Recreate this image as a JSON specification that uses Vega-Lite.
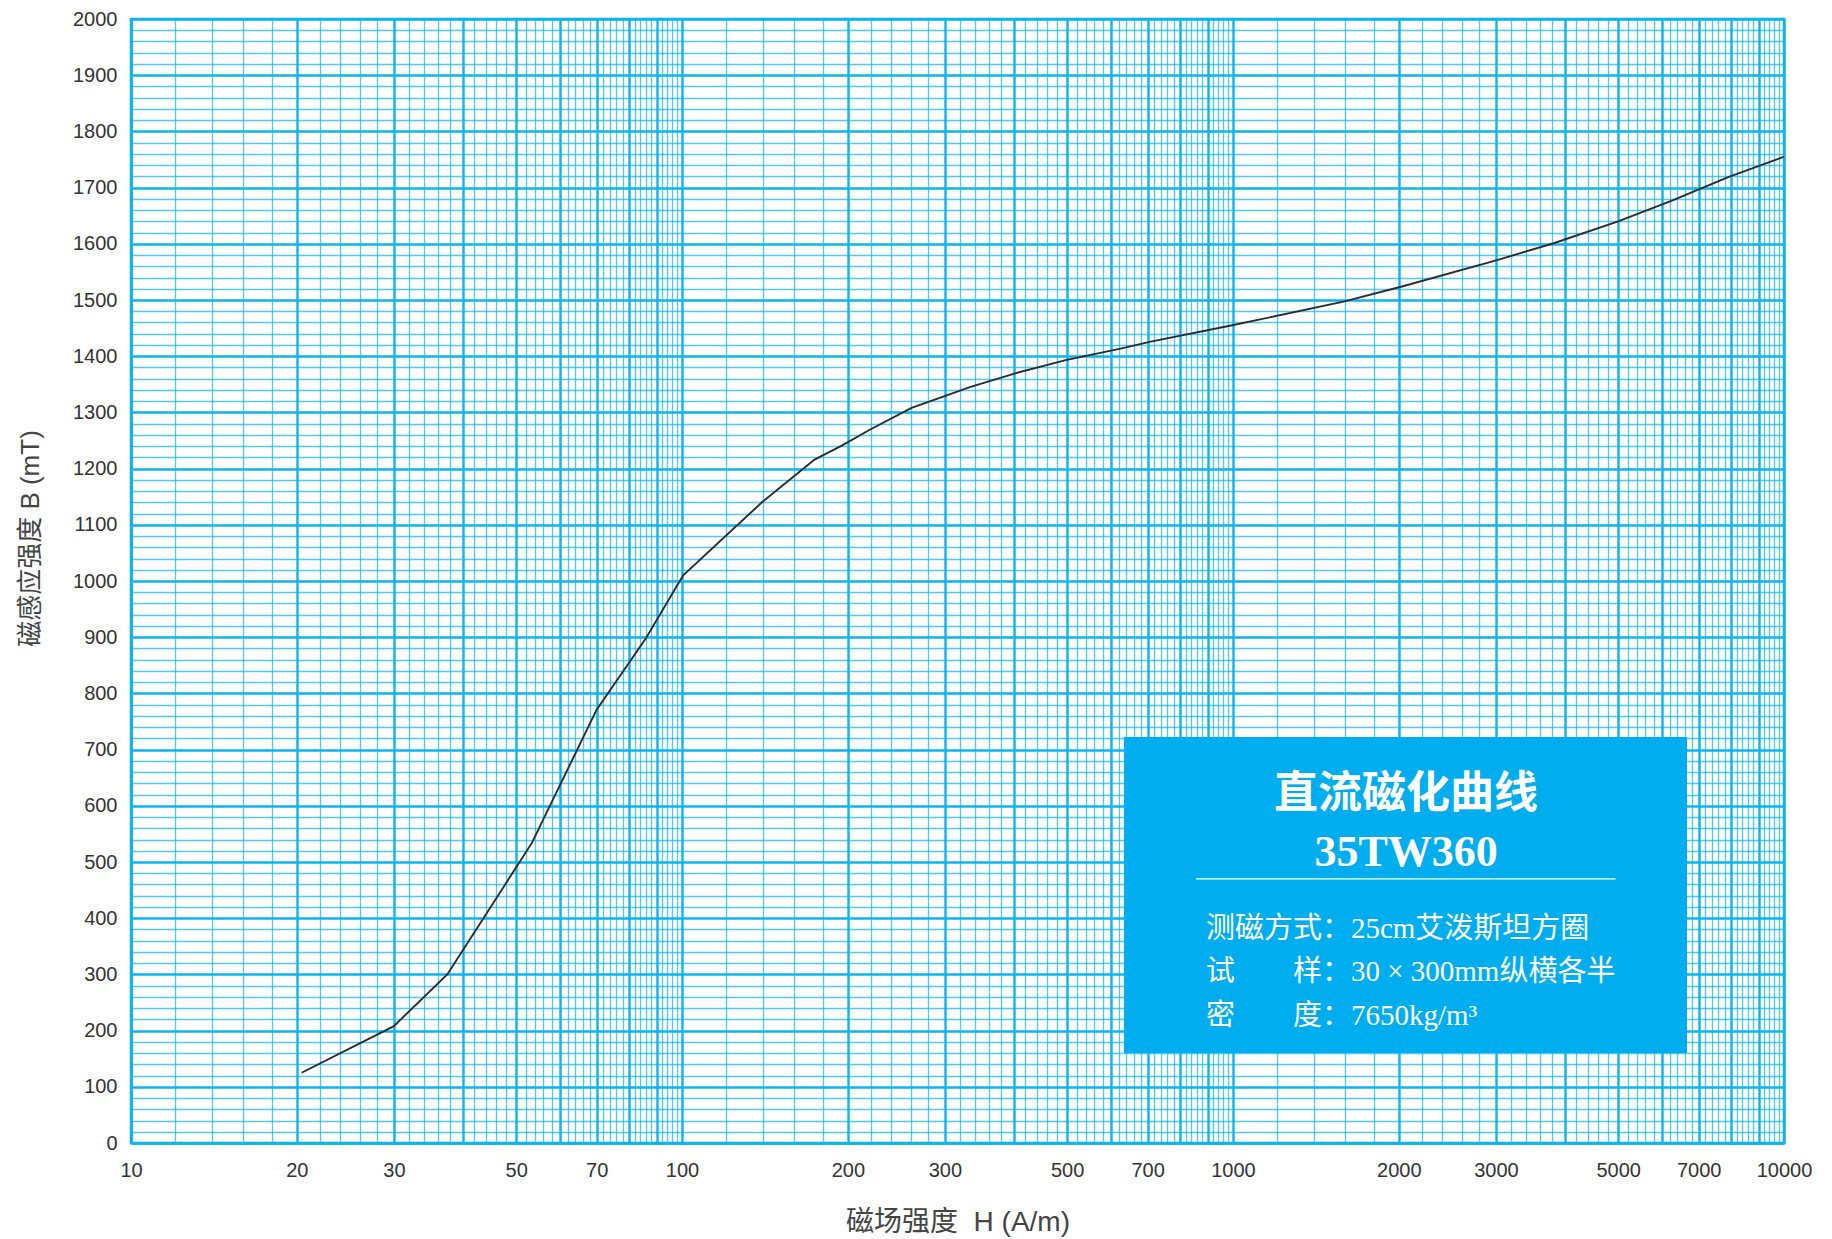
{
  "$schema": "https://vega.github.io/schema/vega-lite/v6.json",
  "autosize": {"type": "none"},
  "padding": {"left": 131, "top": 19, "right": 48, "bottom": 96},
  "width": 1653,
  "height": 1124,
  "background": "white",
  "config": {
    "view": {"stroke": "#0db4ef", "strokeWidth": 2.5},
    "font": "Liberation Sans"
  },
  "datasets": {
    "curve": [
      {"H": 20.4, "B": 125},
      {"H": 30, "B": 208},
      {"H": 37.5, "B": 300},
      {"H": 53.4, "B": 534},
      {"H": 70, "B": 771},
      {"H": 86, "B": 898},
      {"H": 100.5, "B": 1010},
      {"H": 140, "B": 1141},
      {"H": 174, "B": 1216},
      {"H": 195, "B": 1241},
      {"H": 220, "B": 1270},
      {"H": 261, "B": 1308},
      {"H": 333, "B": 1345},
      {"H": 404, "B": 1370},
      {"H": 497, "B": 1393},
      {"H": 628, "B": 1414},
      {"H": 709, "B": 1426},
      {"H": 997, "B": 1455},
      {"H": 1587, "B": 1497},
      {"H": 2026, "B": 1524},
      {"H": 2992, "B": 1570},
      {"H": 3819, "B": 1601},
      {"H": 5000, "B": 1640},
      {"H": 6228, "B": 1676},
      {"H": 7943, "B": 1719},
      {"H": 10000, "B": 1755}
    ],
    "box": [{"H": 634, "H2": 6668, "B": 722.4, "B2": 160.1}],
    "divider": [{"H": 857, "H2": 4948, "B": 469.8}],
    "notes": [
      {"role": "title", "H": 2061, "B": 620, "t": "直流磁化曲线"},
      {"role": "model", "H": 2061, "B": 516, "t": "35TW360"},
      {"role": "info", "H": 893, "B": 380.8, "t": "测磁方式：25cm艾泼斯坦方圈"},
      {"role": "info", "H": 893, "B": 304.3, "t": "试　　样：30 × 300mm纵横各半"},
      {"role": "info", "H": 893, "B": 225.1, "t": "密　　度：7650kg/m³"}
    ]
  },
  "encoding": {
    "x": {
      "field": "H",
      "type": "quantitative",
      "scale": {"type": "log", "domain": [10, 10000], "nice": false},
      "axis": {
        "title": "磁场强度\u00a0\u00a0H (A/m)",
        "titleFont": "Liberation Sans, Noto Sans CJK SC",
        "titleFontSize": 28,
        "titleFontWeight": "normal",
        "titleColor": "#444444",
        "titleY": 79,
        "titleBaseline": "middle",
        "values": [10,12,14,16,18,20,22,24,26,28,30,32,34,36,38,40,42,44,46,48,50,52,54,56,58,60,62,64,66,68,70,72,74,76,78,80,82,84,86,88,90,92,94,96,98,100,120,140,160,180,200,220,240,260,280,300,320,340,360,380,400,420,440,460,480,500,520,540,560,580,600,620,640,660,680,700,720,740,760,780,800,820,840,860,880,900,920,940,960,980,1000,1200,1400,1600,1800,2000,2200,2400,2600,2800,3000,3200,3400,3600,3800,4000,4200,4400,4600,4800,5000,5200,5400,5600,5800,6000,6200,6400,6600,6800,7000,7200,7400,7600,7800,8000,8200,8400,8600,8800,9000,9200,9400,9600,9800,10000],
        "labelExpr": "indexof([10,20,30,50,70,100,200,300,500,700,1000,2000,3000,5000,7000,10000], datum.value) >= 0 ? format(datum.value, 'd') : ''",
        "labelOverlap": false,
        "labelFlush": false,
        "labelFont": "Liberation Sans",
        "labelFontSize": 20,
        "labelColor": "#333333",
        "labelPadding": 17,
        "ticks": false,
        "domainColor": "#0db4ef",
        "domainWidth": 2.5,
        "grid": true,
        "gridColor": "#0db4ef",
        "gridWidth": {"condition": {"test": "indexof([10,20,30,40,50,60,70,80,90,100,200,300,400,500,600,700,800,900,1000,2000,3000,4000,5000,6000,7000,8000,9000,10000], datum.value) >= 0", "value": 2.4}, "value": 1.3},
        "gridOpacity": {"condition": {"test": "indexof([10,20,30,40,50,60,70,80,90,100,200,300,400,500,600,700,800,900,1000,2000,3000,4000,5000,6000,7000,8000,9000,10000], datum.value) >= 0", "value": 1}, "value": 0.72}
      }
    },
    "y": {
      "field": "B",
      "type": "quantitative",
      "scale": {"domain": [0, 2000], "nice": false, "zero": true},
      "axis": {
        "title": "磁感应强度 B (mT)",
        "titleFont": "Liberation Sans, Noto Sans CJK SC",
        "titleFontSize": 26,
        "titleFontWeight": "normal",
        "titleColor": "#444444",
        "titleAngle": 270,
        "titleX": -101,
        "titleY": 519,
        "titleAlign": "center",
        "titleBaseline": "middle",
        "values": [0,20,40,60,80,100,120,140,160,180,200,220,240,260,280,300,320,340,360,380,400,420,440,460,480,500,520,540,560,580,600,620,640,660,680,700,720,740,760,780,800,820,840,860,880,900,920,940,960,980,1000,1020,1040,1060,1080,1100,1120,1140,1160,1180,1200,1220,1240,1260,1280,1300,1320,1340,1360,1380,1400,1420,1440,1460,1480,1500,1520,1540,1560,1580,1600,1620,1640,1660,1680,1700,1720,1740,1760,1780,1800,1820,1840,1860,1880,1900,1920,1940,1960,1980,2000],
        "labelExpr": "datum.value % 100 === 0 ? format(datum.value, 'd') : ''",
        "labelOverlap": false,
        "labelFlush": false,
        "labelFont": "Liberation Sans",
        "labelFontSize": 20,
        "labelColor": "#333333",
        "labelPadding": 14,
        "ticks": false,
        "domainColor": "#0db4ef",
        "domainWidth": 2.5,
        "grid": true,
        "gridColor": "#0db4ef",
        "gridWidth": {"condition": {"test": "datum.value % 100 === 0", "value": 2.4}, "value": 1.3},
        "gridOpacity": {"condition": {"test": "datum.value % 100 === 0", "value": 1}, "value": 0.72}
      }
    }
  },
  "layer": [
    {
      "data": {"name": "box"},
      "mark": {"type": "rect", "fill": "#00aeef", "stroke": null},
      "encoding": {"x2": {"field": "H2"}, "y2": {"field": "B2"}}
    },
    {
      "data": {"name": "divider"},
      "mark": {"type": "rule", "color": "#ffffff", "strokeWidth": 1.2},
      "encoding": {"x2": {"field": "H2"}}
    },
    {
      "data": {"name": "curve"},
      "mark": {"type": "line", "color": "#2b2b2b", "strokeWidth": 1.9},
      "encoding": {}
    },
    {
      "data": {"name": "notes"},
      "transform": [{"filter": "datum.role === 'title'"}],
      "mark": {"type": "text", "color": "#ffffff", "font": "Noto Sans CJK SC", "fontWeight": "bold", "fontSize": 44, "align": "center", "baseline": "middle"},
      "encoding": {"text": {"field": "t"}}
    },
    {
      "data": {"name": "notes"},
      "transform": [{"filter": "datum.role === 'model'"}],
      "mark": {"type": "text", "color": "#ffffff", "font": "Liberation Serif", "fontWeight": "bold", "fontSize": 44, "align": "center", "baseline": "middle"},
      "encoding": {"text": {"field": "t"}}
    },
    {
      "data": {"name": "notes"},
      "transform": [{"filter": "datum.role === 'info'"}],
      "mark": {"type": "text", "color": "#ffffff", "font": "Liberation Serif, Noto Sans CJK SC", "fontSize": 29, "align": "left", "baseline": "middle"},
      "encoding": {"text": {"field": "t"}}
    }
  ]
}
